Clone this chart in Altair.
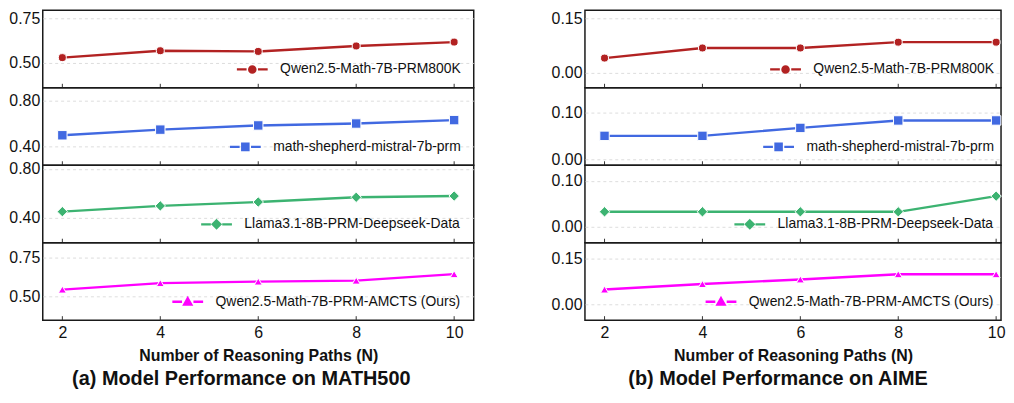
import altair as alt
import pandas as pd

# ---------------- data ----------------
N_PATHS = [2, 4, 6, 8, 10]
MODELS = [
    "Qwen2.5-Math-7B-PRM800K",
    "math-shepherd-mistral-7b-prm",
    "Llama3.1-8B-PRM-Deepseek-Data",
    "Qwen2.5-Math-7B-PRM-AMCTS (Ours)",
]
COLORS = ["#b22222", "#4169e1", "#3cb371", "#ff00ff"]
SHAPES = ["circle", "square", "diamond", "triangle-up"]

MATH500_PRM800K = [0.528, 0.567, 0.563, 0.594, 0.616]
MATH500_SHEPHERD = [0.496, 0.546, 0.583, 0.600, 0.630]
MATH500_LLAMA = [0.448, 0.495, 0.527, 0.566, 0.576]
MATH500_AMCTS = [0.545, 0.587, 0.597, 0.603, 0.645]

AIME_PRM800K = [0.040, 0.068, 0.068, 0.084, 0.084]
AIME_SHEPHERD = [0.050, 0.050, 0.067, 0.083, 0.083]
AIME_LLAMA = [0.033, 0.033, 0.033, 0.033, 0.067]
AIME_AMCTS = [0.048, 0.066, 0.081, 0.098, 0.098]

MATH500_YDOMAIN = [[0.357, 0.796], [0.231, 0.916], [0.193, 0.829], [0.347, 0.849]]
MATH500_YTICKS = [[0.50, 0.75], [0.40, 0.80], [0.40, 0.80], [0.50, 0.75]]
AIME_YDOMAIN = [[-0.042, 0.172], [-0.013, 0.153], [-0.034, 0.134], [-0.052, 0.201]]
AIME_YTICKS = [[0.00, 0.15], [0.00, 0.10], [0.00, 0.10], [0.00, 0.15]]

X_DOMAIN_LEFT = [1.6, 10.4]
X_DOMAIN_RIGHT = [1.6, 10.1]   # right panel is cut by the image edge

X_TITLE = "Number of Reasoning Paths (N)"
SUBTITLES = ["(a) Model Performance on MATH500", "(b) Model Performance on AIME"]

# ---------------- style ----------------
FONT = "Liberation Sans"
W_LEFT, W_RIGHT, H = 434, 419, 78
LEGEND_X_LEFT = [194, 187, 158, 129]
LEGEND_X_RIGHT = [185, 178, 149, 120]
POINT_SIZES = [65, 90, 110, 65]
LINE_W = 2.4
TEXT = "#111111"


def sym_path(kind):
    line = "M-1,0L-0.37,0M0.37,0L1,0"
    if kind == "circle":
        m = "M-0.2,0A0.2,0.2,0,1,1,0.2,0A0.2,0.2,0,1,1,-0.2,0Z"
    elif kind == "square":
        m = "M-0.2,-0.2L0.2,-0.2L0.2,0.2L-0.2,0.2Z"
    elif kind == "diamond":
        m = "M0,-0.25L0.25,0L0,0.25L-0.25,0Z"
    else:
        m = "M0,-0.23L0.23,0.18L-0.23,0.18Z"
    return line + m


def panel(values, idx, ydomain, yticks, bottom, xdomain, width, legend_x):
    df = pd.DataFrame({"N": N_PATHS, "score": values, "model": [MODELS[idx]] * len(N_PATHS)})
    if bottom:
        xaxis = alt.Axis(values=N_PATHS, format="d", title=X_TITLE, grid=False, ticks=False,
                         tickSize=0, domain=False, labelFontSize=16, labelPadding=4,
                         labelColor=TEXT, titleFontSize=16, titleFontWeight="bold",
                         titlePadding=8, titleColor=TEXT, labelFont=FONT, titleFont=FONT)
    else:
        xaxis = None
    yaxis = alt.Axis(values=yticks, format=".2f", title=None, grid=True, gridDash=[3, 3],
                     gridColor="#d4d4d4", gridWidth=0.8, ticks=False, tickSize=0,
                     domain=False, labelFontSize=16, labelPadding=3, labelColor=TEXT,
                     labelFont=FONT)
    x = alt.X("N:Q", scale=alt.Scale(domain=xdomain, nice=False, zero=False), axis=xaxis)
    y = alt.Y("score:Q", scale=alt.Scale(domain=ydomain, nice=False, zero=False), axis=yaxis)
    color = alt.Color(
        "model:N",
        scale=alt.Scale(domain=[MODELS[idx]], range=[COLORS[idx]]),
        legend=alt.Legend(
            orient="none", legendX=legend_x, legendY=H - 35.5, title=None,
            symbolType=sym_path(SHAPES[idx]), symbolSize=31 * 31,
            symbolStrokeWidth=LINE_W, symbolFillColor=COLORS[idx],
            symbolStrokeColor=COLORS[idx], symbolOpacity=1,
            labelFontSize=14, labelFont=FONT, labelColor=TEXT, labelOffset=11,
            labelLimit=400, padding=0,
        ),
    )
    base = alt.Chart(df)
    line = base.mark_line(strokeWidth=LINE_W).encode(x=x, y=y, color=color)
    tick = base.mark_rule(color="#333333", strokeWidth=1).encode(
        x=x, y=alt.value(H), y2=alt.value(H - 4))
    pts = base.mark_point(filled=True, shape=SHAPES[idx], size=POINT_SIZES[idx],
                          stroke="white", strokeWidth=1, opacity=1).encode(x=x, y=y, color=color)
    return alt.layer(line, tick, pts).properties(width=width, height=H)


def column(series, ydomains, yticks, subtitle, xdomain, width, legend_xs):
    panels = [panel(series[i], i, ydomains[i], yticks[i], i == 3, xdomain, width, legend_xs[i])
              for i in range(4)]
    return alt.vconcat(
        *panels, spacing=0, bounds="flush",
        title=alt.TitleParams(subtitle, orient="bottom", fontSize=20, fontWeight="bold",
                              font=FONT, offset=5, anchor="middle", color=TEXT),
    ).resolve_scale(color="independent")


left = column([MATH500_PRM800K, MATH500_SHEPHERD, MATH500_LLAMA, MATH500_AMCTS],
              MATH500_YDOMAIN, MATH500_YTICKS, SUBTITLES[0], X_DOMAIN_LEFT, W_LEFT,
              LEGEND_X_LEFT)
right = column([AIME_PRM800K, AIME_SHEPHERD, AIME_LLAMA, AIME_AMCTS],
               AIME_YDOMAIN, AIME_YTICKS, SUBTITLES[1], X_DOMAIN_RIGHT, W_RIGHT,
               LEGEND_X_RIGHT)

chart = (
    alt.hconcat(left, right, spacing=76)
    .resolve_scale(color="independent")
    .properties(padding={"left": 0, "top": 0, "right": 0, "bottom": 0})
    .configure(font=FONT)
    .configure_view(stroke="#1a1a1a", strokeWidth=1.5)
)

chart.save("out.html", embed_options={"renderer": "svg", "actions": False})
